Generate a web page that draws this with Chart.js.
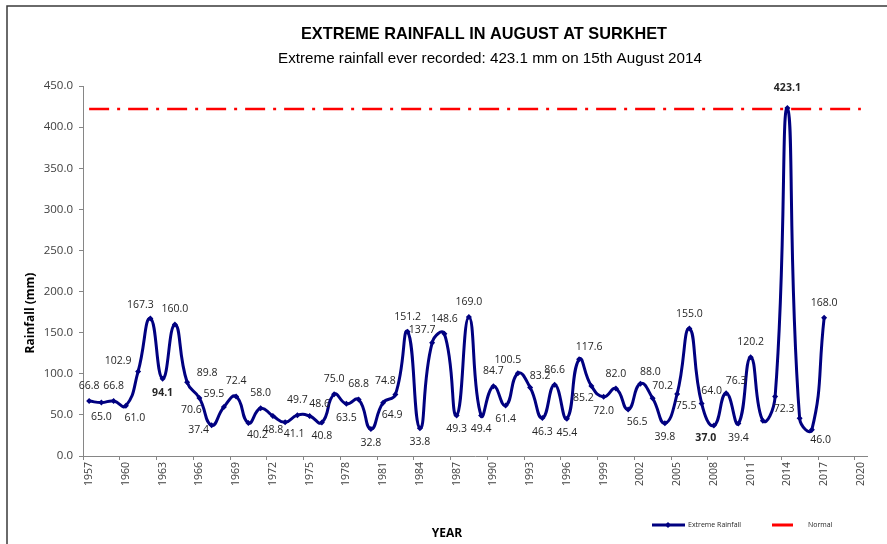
<!DOCTYPE html>
<html>
<head>
<meta charset="utf-8">
<script src="https://cdn.jsdelivr.net/npm/chart.js@4.4.1/dist/chart.umd.min.js"></script>
<style>
  html, body { margin: 0; padding: 0; background: #fff; }
  #wrap { width: 887px; height: 544px; }
</style>
</head>
<body>
<div id="wrap"><canvas id="rainChart" width="887" height="544"></canvas></div>
<script>
// years on the axis (1957 - 2020)
const years = ['1957','1958','1959','1960','1961','1962','1963','1964','1965','1966',
    '1967','1968','1969','1970','1971','1972','1973','1974','1975','1976',
    '1977','1978','1979','1980','1981','1982','1983','1984','1985','1986',
    '1987','1988','1989','1990','1991','1992','1993','1994','1995','1996',
    '1997','1998','1999','2000','2001','2002','2003','2004','2005','2006',
    '2007','2008','2009','2010','2011','2012','2013','2014','2015','2016',
    '2017','2018','2019','2020'];

// extreme rainfall in august (mm), 1957 - 2017
const extremeRainfall = [66.8, 65.0, 66.8, 61.0, 102.9, 167.3, 94.1, 160.0, 89.8, 70.6,
    37.4, 59.5, 72.4, 40.2, 58.0, 48.8, 41.1, 49.7, 48.6, 40.8,
    75.0, 63.5, 68.8, 32.8, 64.9, 74.8, 151.2, 33.8, 137.7, 148.6,
    49.3, 169.0, 49.4, 84.7, 61.4, 100.5, 83.2, 46.3, 86.6, 45.4,
    117.6, 85.2, 72.0, 82.0, 56.5, 88.0, 70.2, 39.8, 75.5, 155.0,
    64.0, 37.0, 76.3, 39.4, 120.2, 43.0, 72.3, 423.1, 46.0, 32.0,
    168.0];

const normalValue = 422;
const yTicks = [0, 50, 100, 150, 200, 250, 300, 350, 400, 450];
const boldYears = ['1963', '2008', '2014'];
const hiddenLabelYears = ['2012', '2016'];

// where each value label sits relative to its point
const labelSide = ['T','B','T','BR','LT','TL','B','T','RT','BL',
    'LB','TL','T','BR','T','B','BR','T','TR','B',
    'T','B','T','B','BR','TL','T','B','TL','T',
    'B','T','B','T','B','TL','TR','B','T','B',
    'TR','BL','B','T','BR','TR','TR','B','BR','T',
    'TR','BL','TR','B','T','-','BR','TT','BRR','-',
    'T'];

const sideOffset = {
    T: [0, -15], TT: [0, -20], B: [0, 14], TL: [-10, -13], TR: [10, -12],
    BL: [-8, 12], BR: [9, 12], LT: [-20, -10], RT: [20, -9], LB: [-13, 5],
    BRR: [21, 22]
};

const navy = '#000080';
const axisGray = '#868686';
const textFont = "'Open Sans', 'DejaVu Sans', sans-serif";

const decorations = {
    id: 'decorations',
    beforeDraw(chart) {
        const ctx = chart.ctx;
        ctx.save();
        ctx.fillStyle = '#ffffff';
        ctx.fillRect(0, 0, chart.width, chart.height);
        ctx.restore();
    },
    afterDatasetsDraw(chart) {
        const ctx = chart.ctx;
        const meta = chart.getDatasetMeta(0);
        ctx.save();
        ctx.textAlign = 'center';
        ctx.textBaseline = 'middle';
        ctx.fillStyle = '#262626';
        meta.data.forEach((pt, i) => {
            const year = years[i];
            const side = labelSide[i];
            if (hiddenLabelYears.includes(year) || !sideOffset[side]) return;
            const off = sideOffset[side];
            const bold = boldYears.includes(year);
            ctx.font = (bold ? 'bold ' : '') + '10.5px ' + textFont;
            ctx.fillText(extremeRainfall[i].toFixed(1), pt.x + off[0], pt.y + off[1]);
        });
        ctx.restore();
    },
    afterDraw(chart) {
        const ctx = chart.ctx;
        ctx.save();

        // outer frame
        ctx.strokeStyle = '#3a3a3a';
        ctx.lineWidth = 1.5;
        ctx.beginPath();
        ctx.moveTo(7, 560);
        ctx.lineTo(7, 6);
        ctx.lineTo(900, 6);
        ctx.stroke();

        // titles
        ctx.fillStyle = '#000';
        ctx.textAlign = 'center';
        ctx.textBaseline = 'middle';
        ctx.font = "bold 16.3px 'Liberation Sans', Arial, sans-serif";
        ctx.fillText('EXTREME RAINFALL IN AUGUST AT SURKHET', 484, 35);
        ctx.font = "15.2px 'Liberation Sans', Arial, sans-serif";
        ctx.fillText('Extreme rainfall ever recorded: 423.1 mm on 15th August 2014', 490, 59);

        // axis titles
        ctx.font = 'bold 12px ' + textFont;
        ctx.fillText('YEAR', 447, 534);
        ctx.save();
        ctx.translate(31, 313);
        ctx.rotate(-Math.PI / 2);
        ctx.fillText('Rainfall (mm)', 0, 0);
        ctx.restore();

        // legend
        const ly = 525;
        ctx.lineWidth = 3;
        ctx.strokeStyle = navy;
        ctx.beginPath();
        ctx.moveTo(652, ly);
        ctx.lineTo(685, ly);
        ctx.stroke();
        ctx.fillStyle = navy;
        ctx.beginPath();
        ctx.moveTo(668, ly - 3);
        ctx.lineTo(671, ly);
        ctx.lineTo(668, ly + 3);
        ctx.lineTo(665, ly);
        ctx.closePath();
        ctx.fill();
        ctx.strokeStyle = '#ff0000';
        ctx.beginPath();
        ctx.moveTo(772, ly);
        ctx.lineTo(793, ly);
        ctx.stroke();
        ctx.fillStyle = '#262626';
        ctx.textAlign = 'left';
        ctx.font = '7px ' + textFont;
        ctx.fillText('Extreme Rainfall', 688, ly);
        ctx.fillText('Normal', 808, ly);

        ctx.restore();
    }
};

const ctx = document.getElementById('rainChart').getContext('2d');

new Chart(ctx, {
    type: 'line',
    data: {
        labels: years,
        datasets: [{
            label: 'Extreme Rainfall',
            data: extremeRainfall,
            borderColor: navy,
            backgroundColor: navy,
            borderWidth: 3,
            tension: 0.5,
            pointStyle: 'rectRot',
            pointRadius: 3,
            pointBorderWidth: 0,
            pointBackgroundColor: navy,
            order: 1
        }, {
            label: 'Normal',
            data: [{ x: years[0], y: normalValue }, { x: years[years.length - 1], y: normalValue }],
            borderColor: '#ff0000',
            borderWidth: 2.5,
            borderDash: [20, 8, 3, 8],
            pointRadius: 0,
            tension: 0,
            order: 2
        }]
    },
    options: {
        responsive: false,
        animation: false,
        layout: {
            padding: { top: 86, right: 20, left: 0, bottom: 0 }
        },
        plugins: {
            legend: { display: false },
            title: { display: false },
            tooltip: { enabled: false }
        },
        scales: {
            x: {
                type: 'category',
                offset: true,
                afterFit: scale => { scale.height = 88; },
                grid: {
                    offset: true,
                    drawOnChartArea: false,
                    drawTicks: true,
                    tickLength: 4,
                    tickColor: c => (c.index % 3 === 0 ? axisGray : 'rgba(0,0,0,0)')
                },
                border: { display: true, color: axisGray, width: 1 },
                ticks: {
                    autoSkip: false,
                    minRotation: 90,
                    maxRotation: 90,
                    padding: 2,
                    color: '#404040',
                    font: { family: textFont, size: 10.5 },
                    callback: function (val, index) {
                        return index % 3 === 0 ? years[index] : '';
                    }
                }
            },
            y: {
                min: 0,
                max: 450,
                afterFit: scale => { scale.width = 83; },
                afterBuildTicks: scale => {
                    scale.ticks = yTicks.map(v => ({ value: v }));
                },
                grid: {
                    drawOnChartArea: false,
                    drawTicks: true,
                    tickLength: 4,
                    tickColor: axisGray
                },
                border: { display: true, color: axisGray, width: 1 },
                ticks: {
                    padding: 6,
                    color: '#404040',
                    font: { family: textFont, size: 11.5 },
                    callback: v => Number(v).toFixed(1)
                }
            }
        }
    },
    plugins: [decorations]
});
</script>
</body>
</html>
